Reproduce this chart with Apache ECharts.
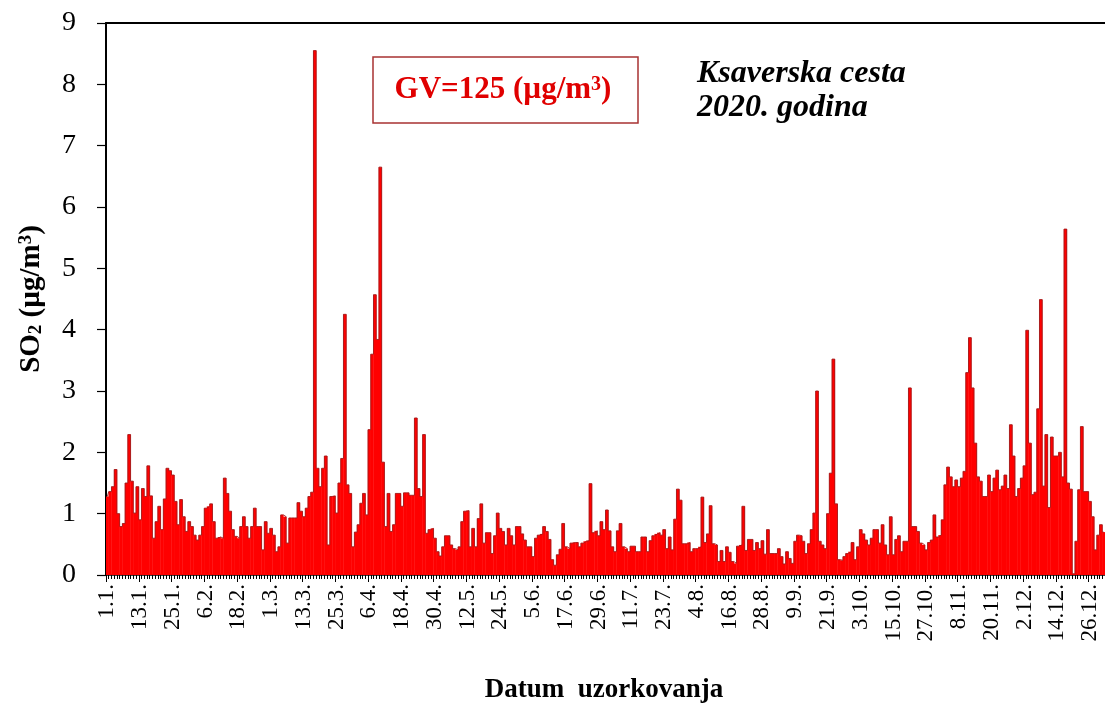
<!DOCTYPE html>
<html>
<head>
<meta charset="utf-8">
<script src="https://cdn.jsdelivr.net/npm/echarts@6/dist/echarts.min.js"></script>
<style>
html,body{margin:0;padding:0;background:#fff;}
#chart{width:1105px;height:709px;}
</style>
</head>
<body>
<div id="chart"></div>
<script>
// Daily SO2 (µg/m3), Ksaverska cesta, 2020 (leap year)
const monthDays = [31,29,31,30,31,30,31,31,30,31,30,31];
const so2Jan = [1.28,1.36,1.44,1.72,1.0,0.79,0.84,1.50,2.29,1.53,1.01,1.44,0.9,1.41,1.28,1.78,1.29,0.6,0.87,1.12,0.74,1.24,1.74,1.70,1.63,1.2,0.82,1.23,0.95,0.71,0.87];
const so2Feb = [0.79,0.65,0.57,0.65,0.79,1.09,1.12,1.16,0.87,0.60,0.62,0.60,1.58,1.33,1.04,0.74,0.63,0.60,0.79,0.95,0.79,0.60,0.79,1.09,0.79,0.79,0.41,0.87,0.68];
const so2Mar = [0.76,0.65,0.38,0.46,0.98,0.95,0.52,0.93,0.93,0.93,1.18,1.04,0.95,1.09,1.28,1.35,8.55,1.74,1.44,1.74,1.94,0.49,1.28,1.29,1.01,1.5,1.90,4.25,1.47,1.33,0.46];
const so2Apr = [0.7,0.82,1.17,1.33,0.98,2.37,3.6,4.57,3.84,6.65,1.84,0.79,1.33,0.71,0.82,1.33,1.33,1.12,1.34,1.34,1.30,1.3,2.56,1.41,1.28,2.29,0.68,0.74,0.76,0.6];
const so2May = [0.38,0.31,0.46,0.64,0.64,0.49,0.43,0.41,0.46,0.87,1.04,1.05,0.46,0.76,0.46,0.92,1.16,0.52,0.69,0.69,0.35,0.64,1.01,0.76,0.71,0.49,0.76,0.64,0.49,0.79,0.79];
const so2Jun = [0.67,0.57,0.46,0.46,0.30,0.6,0.65,0.67,0.79,0.71,0.58,0.25,0.16,0.33,0.42,0.84,0.46,0.43,0.52,0.53,0.53,0.46,0.52,0.55,0.56,1.49,0.69,0.72,0.64,0.87];
const so2Jul = [0.74,1.06,0.72,0.46,0.38,0.72,0.84,0.46,0.43,0.38,0.47,0.47,0.38,0.38,0.62,0.62,0.38,0.56,0.64,0.67,0.69,0.65,0.74,0.43,0.62,0.41,0.91,1.40,1.22,0.51,0.51];
const so2Aug = [0.53,0.38,0.43,0.43,0.46,1.27,0.53,0.67,1.13,0.51,0.49,0.22,0.40,0.22,0.46,0.37,0.22,0.19,0.47,0.49,1.12,0.40,0.58,0.58,0.40,0.53,0.43,0.56,0.34,0.74,0.35];
const so2Sep = [0.35,0.35,0.43,0.30,0.18,0.38,0.27,0.19,0.55,0.65,0.64,0.55,0.35,0.51,0.74,1.01,3.00,0.55,0.49,0.43,1.0,1.66,3.52,1.16,0.25,0.24,0.30,0.35,0.38,0.53];
const so2Oct = [0.25,0.46,0.74,0.67,0.57,0.49,0.60,0.74,0.74,0.52,0.82,0.49,0.33,0.95,0.33,0.58,0.64,0.38,0.55,0.55,3.05,0.79,0.79,0.71,0.52,0.49,0.41,0.53,0.57,0.98,0.62];
const so2Nov = [0.65,0.90,1.47,1.76,1.60,1.44,1.55,1.44,1.58,1.69,3.30,3.87,3.05,2.15,1.60,1.53,1.28,1.28,1.63,1.36,1.58,1.71,1.39,1.45,1.63,1.41,2.45,1.94,1.28,1.41];
const so2Dec = [1.58,1.78,3.99,2.15,1.31,1.35,2.71,4.49,1.45,2.29,1.1,2.25,1.94,1.94,2.0,1.6,5.64,1.5,1.4,0.02,0.55,1.39,2.42,1.36,1.36,1.2,0.95,0.41,0.65,0.82,0.7];
const yTicks = [0,1,2,3,4,5,6,7,8,9];

const values = [].concat(so2Jan,so2Feb,so2Mar,so2Apr,so2May,so2Jun,so2Jul,so2Aug,so2Sep,so2Oct,so2Nov,so2Dec);
const categories = [];
monthDays.forEach((n, m) => { for (let d = 1; d <= n; d++) categories.push(d + '.' + (m + 1) + '.'); });

const SERIF = '"Liberation Serif","Times New Roman",serif';
const chart = echarts.init(document.getElementById('chart'), null, {renderer:'canvas'});
chart.setOption({
  animation: false,
  backgroundColor: '#fff',
  grid: {left: 106, top: 23, right: -4, bottom: 134, containLabel: false},
  xAxis: [
    {
      type: 'category', data: categories, position: 'bottom', boundaryGap: true,
      axisLine: {show: true, lineStyle: {color: '#000', width: 1.5}},
      axisTick: {show: true, interval: 0, length: 4, lineStyle: {color: '#000', width: 1}},
      axisLabel: {interval: 11, rotate: 90, margin: 9, color: '#000', fontSize: 23, fontFamily: SERIF},
      splitLine: {show: false}
    },
    {
      type: 'category', data: categories, position: 'bottom', boundaryGap: true,
      axisLine: {show: false},
      axisTick: {show: true, interval: 11, length: 7, lineStyle: {color: '#000', width: 1}},
      axisLabel: {show: false}, splitLine: {show: false}
    },
    {
      type: 'category', data: categories, position: 'top', boundaryGap: true,
      axisLine: {show: true, lineStyle: {color: '#000', width: 2}},
      axisTick: {show: false}, axisLabel: {show: false}, splitLine: {show: false}
    }
  ],
  yAxis: {
    type: 'value', min: yTicks[0], max: yTicks[yTicks.length - 1], interval: 1,
    axisLine: {show: true, lineStyle: {color: '#000', width: 2}},
    axisTick: {show: true, inside: false, length: 9, lineStyle: {color: '#000', width: 1.2}},
    axisLabel: {margin: 30, color: '#000', fontSize: 28, fontFamily: SERIF},
    splitLine: {show: false},
    name: '{a|SO}{s|2}{a| (µg/m}{p|3}{a|)}',
    nameLocation: 'middle', nameGap: 60, nameRotate: 90,
    nameTextStyle: {
      rich: {
        a: {fontSize: 29, fontWeight: 'bold', fontFamily: SERIF, color: '#000'},
        s: {fontSize: 19, fontWeight: 'bold', fontFamily: SERIF, color: '#000', verticalAlign: 'bottom', lineHeight: 12},
        p: {fontSize: 19, fontWeight: 'bold', fontFamily: SERIF, color: '#000', verticalAlign: 'top', lineHeight: 14}
      }
    }
  },
  series: [
    {
      type: 'bar', data: values, xAxisIndex: 0, barWidth: '115%', barGap: '-100%',
      itemStyle: {color: '#ff0000'}, silent: true
    },
    {
      type: 'line', data: values, xAxisIndex: 0, step: 'middle', symbol: 'none',
      lineStyle: {color: '#a21a1a', width: 0.9}, silent: true, z: 3
    }
  ],
  graphic: [
    {type: 'rect', shape: {x: 373, y: 57, width: 265, height: 66},
     style: {fill: '#fff', stroke: '#a83232', lineWidth: 1.5}, z: 10},
    {type: 'text', x: 503, y: 90, z: 11,
     style: {text: '{a|GV=125 (µg/m}{p|3}{a|)}', textAlign: 'center', textVerticalAlign: 'middle',
       rich: {
         a: {fill: '#e00000', fontSize: 31, fontWeight: 'bold', fontFamily: SERIF},
         p: {fill: '#e00000', fontSize: 20, fontWeight: 'bold', fontFamily: SERIF, verticalAlign: 'top', lineHeight: 16}
       }}},
    {type: 'text', x: 697, y: 74, z: 11,
     style: {text: 'Ksaverska cesta', fill: '#000', font: 'italic bold 32px ' + SERIF, textAlign: 'left', textVerticalAlign: 'middle'}},
    {type: 'text', x: 697, y: 108, z: 11,
     style: {text: '2020. godina', fill: '#000', font: 'italic bold 32px ' + SERIF, textAlign: 'left', textVerticalAlign: 'middle'}},
    {type: 'text', x: 604, y: 690, z: 11,
     style: {text: 'Datum  uzorkovanja', fill: '#000', font: 'bold 27px ' + SERIF, textAlign: 'center', textVerticalAlign: 'middle'}}
  ]
});
</script>
</body>
</html>
